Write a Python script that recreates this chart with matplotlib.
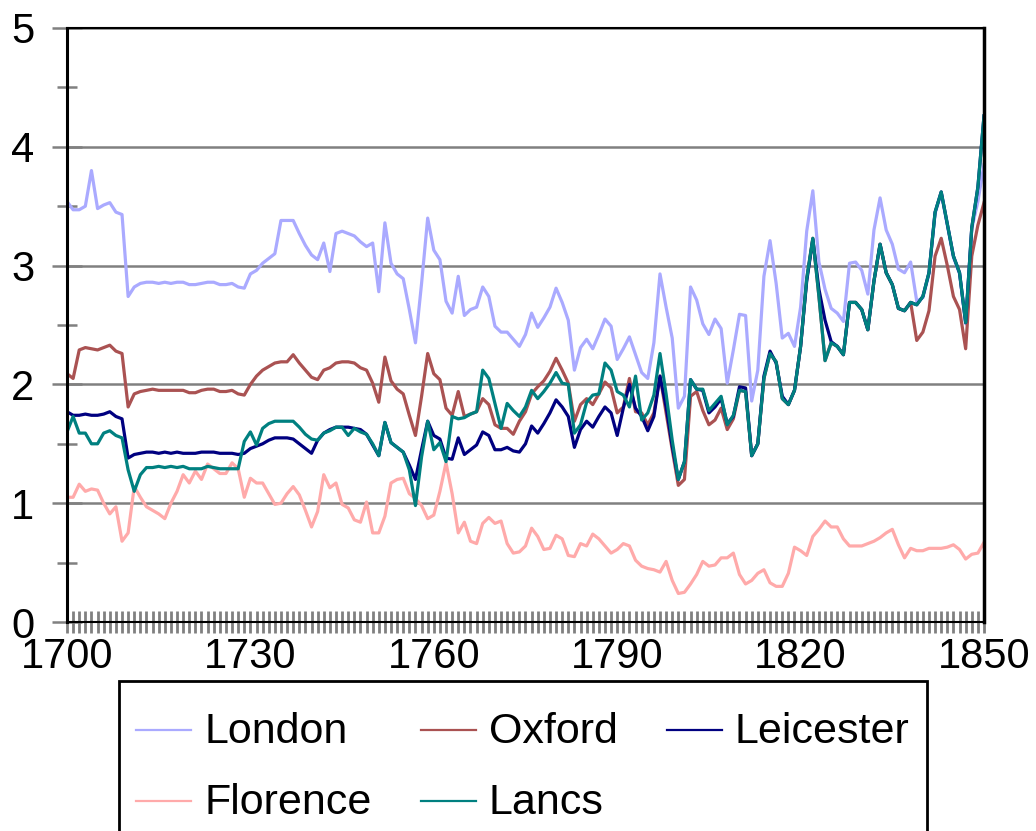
#!/usr/bin/env python3
"""
Real wage series 1700-1850: London, Oxford, Leicester, Florence, Lancs.
Excel-style line chart, legend box under the plot.
"""

import numpy as np
import matplotlib
matplotlib.use("Agg")
import matplotlib.pyplot as plt
from matplotlib.lines import Line2D
from matplotlib.legend_handler import HandlerLine2D

plt.rcParams["font.family"] = ["Liberation Sans", "DejaVu Sans"]

# ── Data (one value per year, 1700..1850) ─────────────────────────────────

YEARS = list(range(1700, 1851))

LONDON = [
    3.54, 3.47, 3.47, 3.50, 3.80, 3.48, 3.51, 3.53, 3.45, 3.43,
    2.74, 2.82, 2.85, 2.86, 2.86, 2.85, 2.86, 2.85, 2.86, 2.86,
    2.84, 2.84, 2.85, 2.86, 2.86, 2.84, 2.84, 2.85, 2.82, 2.81,
    2.93, 2.96, 3.02, 3.06, 3.10, 3.38, 3.38, 3.38, 3.27, 3.17,
    3.09, 3.05, 3.19, 2.95, 3.27, 3.29, 3.27, 3.25, 3.20, 3.16,
    3.19, 2.78, 3.36, 3.02, 2.93, 2.89, 2.63, 2.35, 2.85, 3.40,
    3.13, 3.05, 2.70, 2.60, 2.91, 2.58, 2.63, 2.65, 2.82, 2.74,
    2.49, 2.44, 2.44, 2.38, 2.32, 2.42, 2.60, 2.48, 2.56, 2.65,
    2.81, 2.69, 2.54, 2.12, 2.31, 2.38, 2.30, 2.42, 2.55, 2.49,
    2.21, 2.30, 2.40, 2.25, 2.10, 2.05, 2.35, 2.93, 2.65, 2.39,
    1.80, 1.90, 2.82, 2.71, 2.51, 2.42, 2.55, 2.47, 2.01, 2.29,
    2.59, 2.58, 1.86, 2.12, 2.91, 3.21, 2.85, 2.39, 2.43, 2.32,
    2.65, 3.29, 3.63, 3.03, 2.80, 2.64, 2.60, 2.53, 3.02, 3.03,
    2.96, 2.76, 3.30, 3.57, 3.30, 3.18, 2.97, 2.94, 3.03, 2.70,
    2.73, 2.93, 3.44, 3.61, 3.34, 3.07, 2.93, 2.51, 3.31, 3.54, 3.85,
]

OXFORD = [
    2.09, 2.05, 2.29, 2.31, 2.30, 2.29, 2.31, 2.33, 2.28, 2.26,
    1.81, 1.92, 1.94, 1.95, 1.96, 1.95, 1.95, 1.95, 1.95, 1.95,
    1.93, 1.93, 1.95, 1.96, 1.96, 1.94, 1.94, 1.95, 1.92, 1.91,
    2.00, 2.07, 2.12, 2.15, 2.18, 2.19, 2.19, 2.25, 2.18, 2.12,
    2.06, 2.04, 2.12, 2.14, 2.18, 2.19, 2.19, 2.18, 2.14, 2.12,
    2.01, 1.85, 2.23, 2.03, 1.96, 1.92, 1.74, 1.57, 1.90, 2.26,
    2.09, 2.04, 1.80, 1.74, 1.94, 1.73, 1.75, 1.77, 1.88, 1.83,
    1.66, 1.63, 1.63, 1.58, 1.69, 1.77, 1.92, 1.98, 2.03, 2.11,
    2.22, 2.12, 2.01, 1.69, 1.83, 1.88, 1.83, 1.92, 2.02, 1.97,
    1.76, 1.81, 2.05, 1.77, 1.76, 1.66, 1.76, 2.07, 1.76, 1.45,
    1.15, 1.20, 1.90, 1.94, 1.78, 1.66, 1.70, 1.80, 1.62, 1.71,
    1.95, 1.94, 1.40, 1.50, 2.05, 2.26, 2.19, 1.88, 1.83, 1.95,
    2.32, 2.89, 3.23, 2.74, 2.20, 2.35, 2.32, 2.25, 2.69, 2.69,
    2.63, 2.46, 2.87, 3.18, 2.94, 2.84, 2.64, 2.62, 2.69, 2.37,
    2.44, 2.62, 3.08, 3.23, 3.00, 2.74, 2.63, 2.30, 3.08, 3.34, 3.53,
]

LEICESTER = [
    1.77, 1.74, 1.74, 1.75, 1.74, 1.74, 1.75, 1.77, 1.73, 1.71,
    1.38, 1.41, 1.42, 1.43, 1.43, 1.42, 1.43, 1.42, 1.43, 1.42,
    1.42, 1.42, 1.43, 1.43, 1.43, 1.42, 1.42, 1.42, 1.41, 1.42,
    1.46, 1.48, 1.50, 1.53, 1.55, 1.55, 1.55, 1.54, 1.50, 1.46,
    1.42, 1.53, 1.59, 1.62, 1.64, 1.64, 1.64, 1.63, 1.62, 1.58,
    1.49, 1.40, 1.68, 1.51, 1.47, 1.43, 1.32, 1.20, 1.45, 1.69,
    1.57, 1.54, 1.38, 1.37, 1.55, 1.41, 1.45, 1.49, 1.60, 1.57,
    1.45, 1.45, 1.47, 1.44, 1.43, 1.50, 1.65, 1.59, 1.67, 1.76,
    1.87, 1.81, 1.73, 1.47, 1.62, 1.69, 1.64, 1.73, 1.81, 1.76,
    1.57, 1.80, 2.00, 1.80, 1.73, 1.61, 1.73, 2.07, 1.81, 1.48,
    1.20, 1.35, 2.04, 1.96, 1.95, 1.76, 1.81, 1.88, 1.67, 1.73,
    1.98, 1.97, 1.40, 1.50, 2.07, 2.28, 2.18, 1.90, 1.83, 1.95,
    2.32, 2.87, 3.22, 2.80, 2.54, 2.36, 2.32, 2.25, 2.69, 2.69,
    2.63, 2.46, 2.87, 3.18, 2.94, 2.84, 2.64, 2.62, 2.69, 2.67,
    2.74, 2.94, 3.45, 3.62, 3.35, 3.08, 2.94, 2.52, 3.32, 3.66, 4.26,
]

FLORENCE = [
    1.05, 1.05, 1.16, 1.10, 1.12, 1.11, 1.00, 0.91, 0.97, 0.68,
    0.75, 1.14, 1.05, 0.97, 0.94, 0.91, 0.87, 1.00, 1.10, 1.24,
    1.17, 1.27, 1.20, 1.33, 1.29, 1.25, 1.25, 1.34, 1.29, 1.05,
    1.21, 1.17, 1.17, 1.08, 0.99, 1.00, 1.08, 1.14, 1.07, 0.94,
    0.80, 0.93, 1.24, 1.13, 1.17, 0.99, 0.96, 0.86, 0.84, 1.01,
    0.75, 0.75, 0.89, 1.17, 1.20, 1.21, 1.08, 1.04, 0.98, 0.87,
    0.90, 1.10, 1.34, 1.08, 0.75, 0.84, 0.68, 0.66, 0.83, 0.88,
    0.83, 0.85, 0.66, 0.58, 0.59, 0.64, 0.79, 0.72, 0.61, 0.62,
    0.73, 0.70, 0.56, 0.55, 0.66, 0.64, 0.74, 0.70, 0.64, 0.58,
    0.61, 0.66, 0.64, 0.52, 0.47, 0.45, 0.44, 0.42, 0.51, 0.35,
    0.24, 0.25, 0.32, 0.40, 0.51, 0.47, 0.48, 0.54, 0.54, 0.58,
    0.40, 0.32, 0.35, 0.41, 0.44, 0.33, 0.30, 0.30, 0.41, 0.63,
    0.60, 0.56, 0.72, 0.78, 0.85, 0.80, 0.80, 0.70, 0.64, 0.64,
    0.64, 0.66, 0.68, 0.71, 0.75, 0.78, 0.65, 0.54, 0.62, 0.60,
    0.60, 0.62, 0.62, 0.62, 0.63, 0.65, 0.61, 0.53, 0.57, 0.58, 0.67,
]

LANCS = [
    1.60, 1.73, 1.59, 1.59, 1.50, 1.50, 1.59, 1.61, 1.57, 1.55,
    1.28, 1.10, 1.24, 1.30, 1.30, 1.31, 1.30, 1.31, 1.30, 1.31,
    1.29, 1.29, 1.29, 1.31, 1.30, 1.29, 1.29, 1.29, 1.29, 1.52,
    1.60, 1.49, 1.63, 1.67, 1.69, 1.69, 1.69, 1.69, 1.64, 1.58,
    1.54, 1.53, 1.59, 1.61, 1.64, 1.64, 1.57, 1.63, 1.60, 1.58,
    1.50, 1.40, 1.68, 1.51, 1.47, 1.43, 1.28, 0.98, 1.39, 1.69,
    1.45, 1.51, 1.35, 1.73, 1.71, 1.72, 1.75, 1.77, 2.12, 2.05,
    1.84, 1.63, 1.84, 1.78, 1.73, 1.81, 1.95, 1.88, 1.94, 2.01,
    2.10, 2.01, 2.00, 1.59, 1.66, 1.85, 1.91, 1.92, 2.18, 2.12,
    1.94, 1.91, 1.81, 2.07, 1.70, 1.76, 1.91, 2.26, 1.92, 1.53,
    1.20, 1.35, 2.04, 1.96, 1.96, 1.78, 1.84, 1.90, 1.66, 1.74,
    1.95, 1.94, 1.40, 1.50, 2.05, 2.26, 2.19, 1.88, 1.83, 1.95,
    2.32, 2.89, 3.23, 2.74, 2.20, 2.35, 2.32, 2.25, 2.69, 2.69,
    2.63, 2.46, 2.87, 3.18, 2.94, 2.84, 2.64, 2.62, 2.69, 2.67,
    2.74, 2.94, 3.45, 3.62, 3.35, 3.08, 2.94, 2.52, 3.32, 3.66, 4.26,
]

SERIES = [
    ("London",    LONDON,    "#AAAAFF"),
    ("Oxford",    OXFORD,    "#AA5252"),
    ("Leicester", LEICESTER, "#000080"),
    ("Florence",  FLORENCE,  "#FFAAAA"),
    ("Lancs",     LANCS,     "#008080"),
]

# legend fills column-wise, so this gives rows London/Oxford/Leicester, Florence/Lancs
LEGEND_ORDER = ["London", "Florence", "Oxford", "Lancs", "Leicester"]

GRID_GREY = "#808080"

# ── Figure ────────────────────────────────────────────────────────────────

W, H = 1036, 831
fig = plt.figure(figsize=(W / 100, H / 100), dpi=100)
ax = fig.add_axes([67 / W, (H - 622) / H, (984 - 67) / W, (622 - 28) / H])

for name, vals, col in SERIES:
    ax.plot(YEARS, vals, color=col, lw=2.3, label=name)

ax.set_xlim(1700, 1850)
ax.set_ylim(0, 5)

ax.set_xticks(range(1700, 1851, 30))
ax.set_xticks(YEARS, minor=True)
ax.set_yticks(range(0, 6))
ax.set_yticks(np.arange(0.5, 5, 1.0), minor=True)

ax.tick_params(axis="x", which="both", direction="inout", length=16,
               width=2.0, color=GRID_GREY, labelsize=30, pad=3)
ax.tick_params(axis="y", which="major", direction="inout", length=21,
               width=1.8, color=GRID_GREY, labelsize=30, pad=13)
ax.tick_params(axis="y", which="minor", direction="inout", length=14,
               width=1.8, color=GRID_GREY)

ax.yaxis.grid(True, which="major", color=GRID_GREY, lw=1.8)
ax.set_axisbelow(True)

for side, lw in (("left", 2.2), ("right", 2.5), ("top", 1.5), ("bottom", 1.5)):
    ax.spines[side].set_color("black")
    ax.spines[side].set_linewidth(lw)

# ── Legend (box runs off the bottom edge like the original) ──────────────
# tall handle boxes give the row height; borderpad stays small for the sides.
# The tall box lifts the sample line, so push it back down to the text middle.


def _lower_sample(handle, orig):
    handle.update_from(orig)
    handle.set_ydata(np.asarray(handle.get_ydata()) - 7.2)


colors = {name: col for name, _, col in SERIES}
handles = [Line2D([], [], color=colors[n], lw=1.6) for n in LEGEND_ORDER]
leg = fig.legend(
    handles, LEGEND_ORDER,
    loc="upper left",
    bbox_to_anchor=(119 / W, 1 - 681 / H),
    bbox_transform=fig.transFigure,
    handler_map={Line2D: HandlerLine2D(update_func=_lower_sample)},
    ncol=3,
    fontsize=31,
    frameon=True,
    fancybox=False,
    edgecolor="black",
    framealpha=1,
    handlelength=1.28,
    handleheight=1.8,
    handletextpad=0.3,
    columnspacing=1.14,
    borderpad=0.4,
    labelspacing=0.235,
    borderaxespad=0,
)
leg.get_frame().set_linewidth(2)

fig.savefig("out.png", dpi=100, facecolor="white")
plt.close(fig)
